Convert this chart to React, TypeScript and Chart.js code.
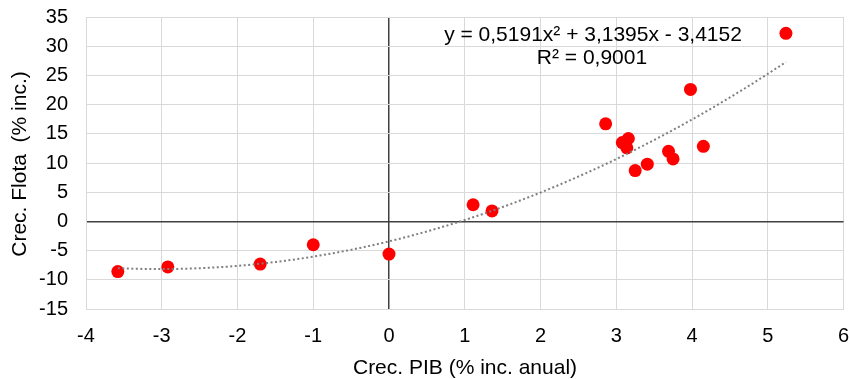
import React, { useEffect, useRef } from "react";
import { Chart, registerables } from "chart.js";

Chart.register(...registerables);

const gdpGrowth = [-3.58, -2.92, -1.70, -1.00, 0.0, 1.11, 1.36, 2.86, 3.08, 3.16, 3.14, 3.25, 3.41, 3.69, 3.75, 3.98, 4.15, 5.24];
const fleetGrowth = [-8.6, -7.8, -7.3, -4.0, -5.6, 2.85, 1.8, 16.7, 13.5, 14.2, 12.6, 8.7, 9.8, 12.0, 10.7, 22.6, 12.85, 32.2];

const trendA = 0.5191;
const trendB = 3.1395;
const trendC = -3.4152;
const equationText = "y = 0,5191x\u00B2 + 3,1395x - 3,4152";
const r2Text = "R\u00B2 = 0,9001";

const xTitle = "Crec. PIB (% inc. anual)";
const yTitle = "Crec. Flota  (% inc.)";

const FONT = "'Liberation Sans', Arial, sans-serif";

export default function App() {
  const ref = useRef<HTMLCanvasElement | null>(null);

  useEffect(() => {
    document.body.style.margin = "0";
    const canvas = ref.current;
    if (!canvas) return;

    const pts = gdpGrowth.map((x, i) => ({ x, y: fleetGrowth[i] }));
    const xmin = Math.min(...gdpGrowth);
    const xmax = Math.max(...gdpGrowth);
    const trend: { x: number; y: number }[] = [];
    const steps = 80;
    for (let i = 0; i <= steps; i++) {
      const x = xmin + ((xmax - xmin) * i) / steps;
      trend.push({ x, y: trendA * x * x + trendB * x + trendC });
    }

    const textPlugin = {
      id: "texts",
      afterDraw(chart: any) {
        const ctx = chart.ctx;
        ctx.save();
        ctx.fillStyle = "#000";
        ctx.textAlign = "center";
        ctx.textBaseline = "middle";
        ctx.font = `21px ${FONT}`;
        ctx.fillText(equationText, 593, 35);
        ctx.fillText(r2Text, 592, 58);
        ctx.fillText(xTitle, 465, 368);
        ctx.translate(20, 164);
        ctx.rotate(-Math.PI / 2);
        ctx.fillText(yTitle, 0, 0);
        ctx.restore();
      },
    };

    const gridColor = (c: any) => (c.tick && c.tick.value === 0 ? "#404040" : "#d9d9d9");
    const gridWidth = (c: any) => (c.tick && c.tick.value === 0 ? 1.5 : 1);

    const chart = new Chart(canvas, {
      type: "scatter",
      data: {
        datasets: [
          {
            label: "trend",
            data: trend,
            showLine: true,
            borderColor: "#7f7f7f",
            borderWidth: 2,
            borderDash: [2, 2.5],
            pointRadius: 0,
            fill: false,
            order: 0,
          } as any,
          {
            label: "data",
            data: pts,
            backgroundColor: "#ff0000",
            borderColor: "#ff0000",
            pointRadius: 6.5,
            pointBorderWidth: 0,
            order: 1,
          },
        ],
      },
      options: {
        animation: false,
        responsive: false,
        layout: { padding: { top: 17, right: 5, left: 0, bottom: 0 } },
        plugins: { legend: { display: false }, tooltip: { enabled: false } },
        scales: {
          x: {
            type: "linear",
            min: -4,
            max: 6,
            ticks: { stepSize: 1, color: "#000", font: { family: FONT, size: 20 }, padding: 15 },
            grid: { color: gridColor, lineWidth: gridWidth, drawTicks: false },
            border: { color: "#d9d9d9" },
            afterFit: (s: any) => {
              s.height = 70;
              s.paddingLeft = 0;
              s.paddingRight = 0;
            },
          },
          y: {
            type: "linear",
            min: -15,
            max: 35,
            ticks: { stepSize: 5, color: "#000", font: { family: FONT, size: 20 }, padding: 18 },
            grid: { color: gridColor, lineWidth: gridWidth, drawTicks: false },
            border: { color: "#d9d9d9" },
            afterFit: (s: any) => {
              s.width = 86;
              s.paddingTop = 0;
              s.paddingBottom = 0;
            },
          },
        },
      },
      plugins: [textPlugin],
    });

    return () => chart.destroy();
  }, []);

  return <canvas ref={ref} width={850} height={379} style={{ display: "block" }} />;
}
